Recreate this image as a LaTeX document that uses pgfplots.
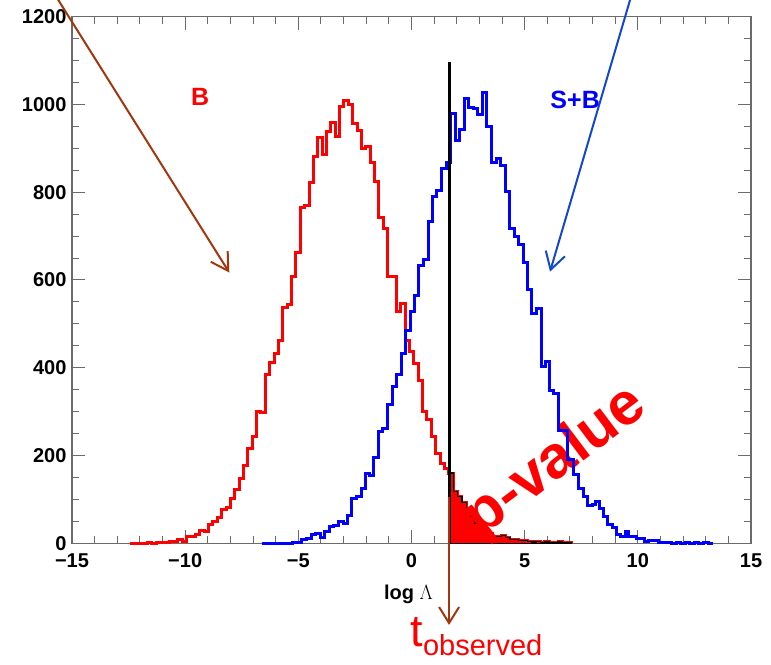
\documentclass[border=0pt]{standalone}
\usepackage{fontspec}
\setmainfont{Liberation Sans}
\usepackage{pgfplots}
\pgfplotsset{compat=1.18}
\usetikzlibrary{arrows.meta}
\definecolor{axgray}{rgb}{0.42,0.42,0.42}
\definecolor{arrbrown}{rgb}{0.64,0.21,0.05}
\definecolor{arrblue}{rgb}{0.08,0.28,0.82}
\begin{document}
\begin{tikzpicture}
\begin{axis}[name=ax, scale only axis, width=679bp, height=526.6bp,
 xmin=-15, xmax=15, ymin=0, ymax=1200,
 xtick={-15,-10,-5,0,5,10,15}, xticklabels={−15,−10,−5,0,5,10,15},
 ytick={0,200,400,600,800,1000,1200}, yticklabels={0,200,400,600,800,1000,1200},
 minor x tick num=4, minor y tick num=3,
 tick align=inside, major tick length=13bp, minor tick length=7bp,
 axis line style={axgray, line width=1.2bp},
 every tick/.style={axgray, line width=1bp},
 tick label style={font=\fontsize{20bp}{24bp}\selectfont\bfseries, black},
 xticklabel style={yshift=-7bp},
 yticklabel style={xshift=-2bp},
 xlabel={\textbf{log} $\Lambda$},
 xlabel style={font=\fontsize{20bp}{24bp}\selectfont, yshift=-10bp, xshift=-3bp},
 clip=false]
% B histogram
\addplot[const plot, red, line width=3bp] coordinates {
(-12.440,0) (-12.247,0) (-12.054,0) (-11.861,0) (-11.668,1) (-11.475,0) (-11.282,1) (-11.089,1) (-10.896,2) (-10.703,4)
(-10.510,4) (-10.317,9) (-10.124,5) (-9.931,15) (-9.738,16) (-9.545,20) (-9.352,30) (-9.159,26) (-8.966,43) (-8.773,49)
(-8.580,59) (-8.387,78) (-8.194,82) (-8.001,101) (-7.808,123) (-7.615,148) (-7.422,177) (-7.229,216) (-7.036,244) (-6.843,300)
(-6.650,298) (-6.457,384) (-6.264,412) (-6.071,433) (-5.878,461) (-5.685,538) (-5.492,545) (-5.299,609) (-5.106,663) (-4.913,766)
(-4.720,769) (-4.527,822) (-4.334,881) (-4.141,925) (-3.948,885) (-3.755,938) (-3.562,960) (-3.369,927) (-3.176,996) (-2.983,1010)
(-2.790,1000) (-2.597,957) (-2.404,941) (-2.211,899) (-2.018,905) (-1.825,868) (-1.632,824) (-1.439,742) (-1.246,718) (-1.053,607)
(-0.860,608) (-0.667,529) (-0.474,547) (-0.281,463) (-0.088,437) (0.105,410) (0.298,372) (0.491,300) (0.684,281) (0.877,243)
(1.070,205) (1.263,182) (1.456,170) (1.649,160) (1.842,118) (2.035,106) (2.228,93) (2.421,78) (2.614,62) (2.807,45)
(3.000,37) (3.193,27) (3.386,23) (3.579,15) (3.772,16) (3.965,18) (4.158,13) (4.351,9) (4.544,8) (4.737,6)
(4.930,7) (5.123,4) (5.316,3) (5.509,4) (5.702,2) (5.895,3) (6.088,2) (6.281,1) (6.474,3) (6.667,2)
(6.860,1) (7.053,0)};
% p-value region
\addplot[const plot, fill=red, draw=black, line width=1.3bp] coordinates {
(1.649,160) (1.842,118) (2.035,106) (2.228,93) (2.421,78) (2.614,62) (2.807,45)
(3.000,37) (3.193,27) (3.386,23) (3.579,15) (3.772,16) (3.965,18) (4.158,13) (4.351,9) (4.544,8) (4.737,6)
(4.930,7) (5.123,4) (5.316,3) (5.509,4) (5.702,2) (5.895,3) (6.088,2) (6.281,1) (6.474,3) (6.667,2)
(6.860,1) (7.053,1)} \closedcycle;
\node[red, rotate=37, font=\fontsize{60bp}{60bp}\selectfont\bfseries] at (axis cs:6.40,185) {p-value};
% S+B histogram
\addplot[const plot, blue, line width=3bp] coordinates {
(-6.62,0) (-5.25,1) (-5.05,2) (-4.85,8) (-4.63,11) (-4.41,19) (-4.22,23) (-4.01,14) (-3.86,26) (-3.64,38)
(-3.43,40) (-3.23,49) (-3.01,44) (-2.83,64) (-2.64,102) (-2.44,106) (-2.23,125) (-2.05,160) (-1.86,154) (-1.66,196)
(-1.46,254) (-1.27,262) (-1.05,317) (-0.84,357) (-0.65,384) (-0.45,433) (-0.25,486) (-0.06,528) (0.14,564) (0.33,634)
(0.54,647) (0.74,733) (0.94,790) (1.12,803) (1.33,855) (1.53,868) (1.73,980) (1.96,917) (2.14,942) (2.32,1014)
(2.52,992) (2.72,990) (2.93,978) (3.12,1027) (3.33,949) (3.54,868) (3.74,878) (3.92,862) (4.14,802) (4.33,718)
(4.54,698) (4.74,680) (4.95,641) (5.13,578) (5.32,524) (5.53,536) (5.74,402) (5.93,414) (6.09,349) (6.28,342)
(6.50,258) (6.70,258) (6.90,192) (7.15,156) (7.38,125) (7.58,107) (7.78,87) (7.98,88) (8.15,95) (8.30,80)
(8.47,62) (8.67,42) (8.86,36) (9.04,19) (9.25,15) (9.45,27) (9.60,16) (9.78,15) (9.92,11) (10.10,10)
(10.28,3) (10.48,7) (10.68,6) (10.90,2) (11.10,2) (11.30,1) (11.50,0) (11.70,1) (11.90,0) (12.10,1)
(12.30,0) (12.50,1) (12.70,0) (12.90,1) (13.10,0) (13.34,0)};
% observed value line
\draw[black, line width=3bp] (axis cs:1.66,0) -- (axis cs:1.66,1097);
\draw[arrbrown, line width=2bp, -{Straight Barb[length=16bp,width=20bp]}] (axis cs:1.66,105) -- (axis cs:1.66,-186);
\draw[arrbrown, line width=2bp, -{Straight Barb[length=17bp,width=20bp]}] (axis cs:-16.36,1300) -- (axis cs:-8.05,617);
\draw[arrblue, line width=2bp, -{Straight Barb[length=17bp,width=20bp]}] (axis cs:10.01,1300) -- (axis cs:6.12,619);
\node[red, font=\fontsize{25bp}{25bp}\selectfont\bfseries] at (axis cs:-9.34,1017) {B};
\node[blue, font=\fontsize{25bp}{25bp}\selectfont\bfseries] at (axis cs:7.23,1010) {S+B};
\node[red, anchor=base west, inner sep=0pt] at (axis cs:-0.05,-236) {\fontsize{45bp}{45bp}\selectfont t\raisebox{-9bp}{\fontsize{29bp}{29bp}\selectfont observed}};
\end{axis}
\pgfresetboundingbox
\path[use as bounding box] ([shift={(-72bp,-121.7bp)}]ax.south west) rectangle ([shift={(20bp,16.7bp)}]ax.north east);
\end{tikzpicture}
\end{document}
